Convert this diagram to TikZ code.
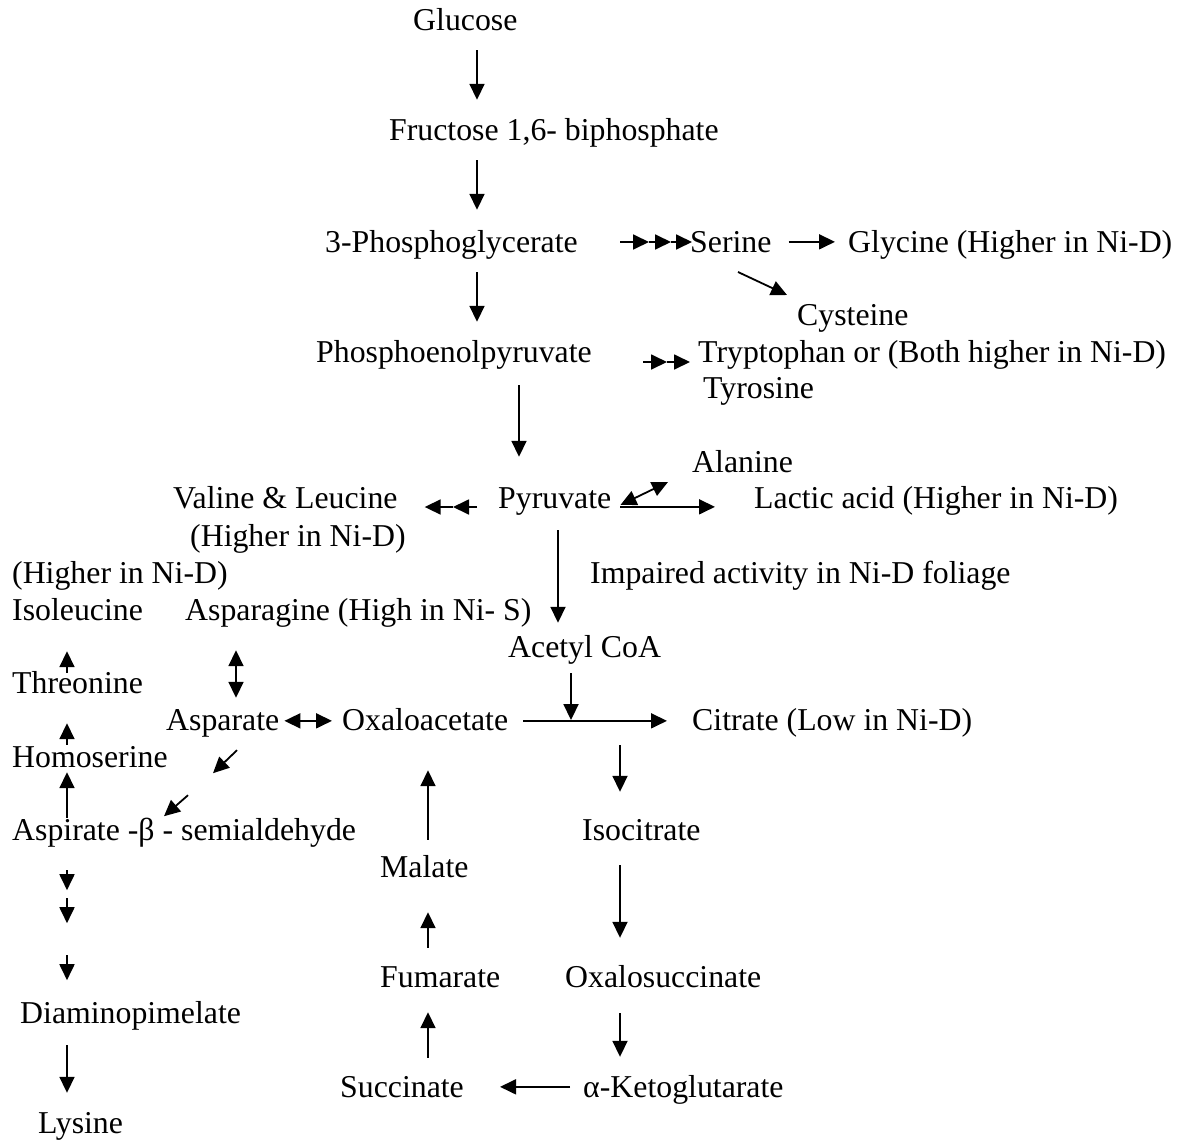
\documentclass[tikz,border=0pt]{standalone}
\usepackage{fontspec}
\setmainfont{Liberation Serif}
\usetikzlibrary{arrows.meta,calc}
\begin{document}
\begin{tikzpicture}[x=1pt,y=-1pt,
  t/.style={anchor=base west, inner sep=0pt, text height=22.3pt, text depth=8pt,
            font=\fontsize{31.8}{36.6}\selectfont},
  arr/.style={line width=1.8pt,-{Triangle[length=16pt,width=15pt]}},
  darr/.style={line width=1.8pt,{Triangle[length=16pt,width=15pt]}-{Triangle[length=16pt,width=15pt]}}]
\useasboundingbox (0,0) rectangle (1183,1143);

% nodes
\node[t] (glu) at (413,30) {Glucose};
\node[t] (fru) at (389,140) {Fructose 1,6- biphosphate};
\node[t] (pg) at (325,252) {3-Phosphoglycerate};
\node[t] (ser) at (690,252) {Serine};
\node[t] (gly) at (848,252) {Glycine (Higher in Ni-D)};
\node[t] (cys) at (797,325) {Cysteine};
\node[t] (pep) at (316,362) {Phosphoenolpyruvate};
\node[t] (trp) at (698,362) {Tryptophan or (Both higher in Ni-D)};
\node[t] (tyr) at (703,398) {Tyrosine};
\node[t] (ala) at (692,472) {Alanine};
\node[t] (val) at (173,508) {Valine \& Leucine};
\node[t] (pyr) at (498,508) {Pyruvate};
\node[t] (lac) at (754,508) {Lactic acid (Higher in Ni-D)};
\node[t] (valh) at (190,546) {(Higher in Ni-D)};
\node[t] (ileh) at (12,583) {(Higher in Ni-D)};
\node[t] (imp) at (590,583) {Impaired activity in Ni-D foliage};
\node[t] (ile) at (12,620) {Isoleucine};
\node[t] (asn) at (185,620) {Asparagine (High in Ni- S)};
\node[t] (acoa) at (508,657) {Acetyl CoA};
\node[t] (thr) at (12,693) {Threonine};
\node[t] (asp) at (166,730) {Asparate};
\node[t] (oaa) at (342,730) {Oxaloacetate};
\node[t] (cit) at (692,730) {Citrate (Low in Ni-D)};
\node[t] (hse) at (12,767) {Homoserine};
\node[t] (asa) at (12,840) {Aspirate -β - semialdehyde};
\node[t] (icit) at (582,840) {Isocitrate};
\node[t] (mal) at (380,877) {Malate};
\node[t] (fum) at (380,987) {Fumarate};
\node[t] (osuc) at (565,987) {Oxalosuccinate};
\node[t] (dap) at (20,1023) {Diaminopimelate};
\node[t] (suc) at (340,1097) {Succinate};
\node[t] (akg) at (583,1097) {α-Ketoglutarate};
\node[t] (lys) at (38,1133) {Lysine};

% column coordinates
\coordinate (cA) at (477,0);
\coordinate (cB) at (519,0);
\coordinate (cC) at (558,0);
\coordinate (cJ) at (571,0);
\coordinate (cD) at (620,0);
\coordinate (cE) at (428,0);
\coordinate (cF) at (236,0);
\coordinate (cL) at (67,0);

% main glycolysis column
\draw[arr, shorten <=12pt, shorten >=17.7pt] (glu.south -| cA) -- (fru.north -| cA);
\draw[arr, shorten <=12pt, shorten >=19.7pt] (fru.south -| cA) -- (pg.north -| cA);
\draw[arr, shorten <=12pt, shorten >=17.7pt] (pg.south -| cA) -- (pep.north -| cA);
\draw[arr, shorten <=15pt, shorten >=28.7pt] (pep.south -| cB) -- (pyr.north -| cB);
\draw[arr, shorten <=14pt, shorten >=11.7pt] (pyr.south -| cC) -- (acoa.north -| cC);

% serine branch: three stacked heads
\coordinate (s0) at ($(ser.base west)+(-70,-10)$);
\coordinate (s1) at ($(ser.base west)+(-41,-10)$);
\coordinate (s2) at ($(ser.base west)+(-19,-10)$);
\coordinate (s3) at ($(ser.base west)+(2,-10)$);
\draw[arr] (s0) -- (s1);
\draw[arr] (s1) -- (s2);
\draw[arr] (s2) -- (s3);
\draw[arr, shorten <=17pt, shorten >=13pt] ([yshift=3pt]ser.east) -- ([yshift=3pt]gly.west);
\draw[arr] ($(ser.base west)+(48,20)$) -- ($(cys.base west)+(-10,-30)$);

% aromatic branch: two stacked heads
\coordinate (w0) at ($(trp.base west)+(-55,0)$);
\coordinate (w1) at ($(trp.base west)+(-31,0)$);
\coordinate (w2) at ($(trp.base west)+(-8,0)$);
\draw[arr] (w0) -- (w1);
\draw[arr] (w1) -- (w2);

% pyruvate branches
\coordinate (v0) at ($(pyr.base west)+(-21,-1)$);
\coordinate (v1) at ($(pyr.base west)+(-45,-1)$);
\coordinate (v2) at ($(val.base east)+(27,-1)$);
\draw[arr] (v0) -- (v1);
\draw[arr] (v1) -- (v2);
\draw[arr, shorten <=9pt, shorten >=39pt] ([yshift=-6pt]pyr.east) -- ([yshift=-6pt]lac.west);
\draw[darr] ($(pyr.base east)+(9,-3)$) -- ($(ala.base west)+(-24,10)$);

% TCA
\draw[arr, shorten <=15pt, shorten >=25pt] ([yshift=2pt]oaa.east) -- ([yshift=2pt]cit.west);
\draw[arr, shorten <=8pt, shorten >=2.8pt] (acoa.south -| cJ) -- (cJ |- oaa);
\draw[arr, shorten <=7pt, shorten >=25.7pt] (cit.south -| cD) -- (icit.north -| cD);
\draw[arr, shorten <=17pt, shorten >=26.7pt] (icit.south -| cD) -- (osuc.north -| cD);
\draw[arr, shorten <=18pt, shorten >=17.7pt] (osuc.south -| cD) -- (akg.north -| cD);
\draw[arr, shorten <=13pt, shorten >=36pt] ([yshift=3pt]akg.west) -- ([yshift=3pt]suc.east);
\draw[arr, shorten <=16.7pt, shorten >=17pt] (suc.north -| cE) -- (fum.south -| cE);
\draw[arr, shorten <=16.7pt, shorten >=27pt] (fum.north -| cE) -- (mal.south -| cE);
\draw[arr, shorten <=14.7pt, shorten >=32pt] (mal.north -| cE) -- (oaa.south -| cE);

% aspartate family
\draw[darr, shorten <=5pt, shorten >=10pt] ([yshift=2pt]asp.east) -- ([yshift=2pt]oaa.west);
\draw[darr, shorten <=22pt, shorten >=9.7pt] (asn.south -| cF) -- (asp.north -| cF);
\draw[arr] ($(asp.south west)+(71,12)$) -- ($(asp.south west)+(47,35)$);
\draw[arr] ($(asp.south west)+(22,57)$) -- ($(asp.south west)+(-2,78)$);
\draw[arr, shorten <=-2pt, shorten >=23pt] (thr.north -| cL) -- (ile.south -| cL);
\draw[arr, shorten <=0pt, shorten >=22pt] (hse.north -| cL) -- (thr.south -| cL);
\draw[arr, shorten <=0pt, shorten >=-3pt] (asa.north -| cL) -- (hse.south -| cL);
\draw[arr] ($(asa.south -| cL)+(0,22)$) -- ++(0,20);
\draw[arr] ($(asa.south -| cL)+(0,50)$) -- ++(0,25);
\draw[arr] ($(asa.south -| cL)+(0,107)$) -- ++(0,25);
\draw[arr, shorten <=14pt, shorten >=17.7pt] (dap.south -| cL) -- (lys.north -| cL);
\end{tikzpicture}
\end{document}
